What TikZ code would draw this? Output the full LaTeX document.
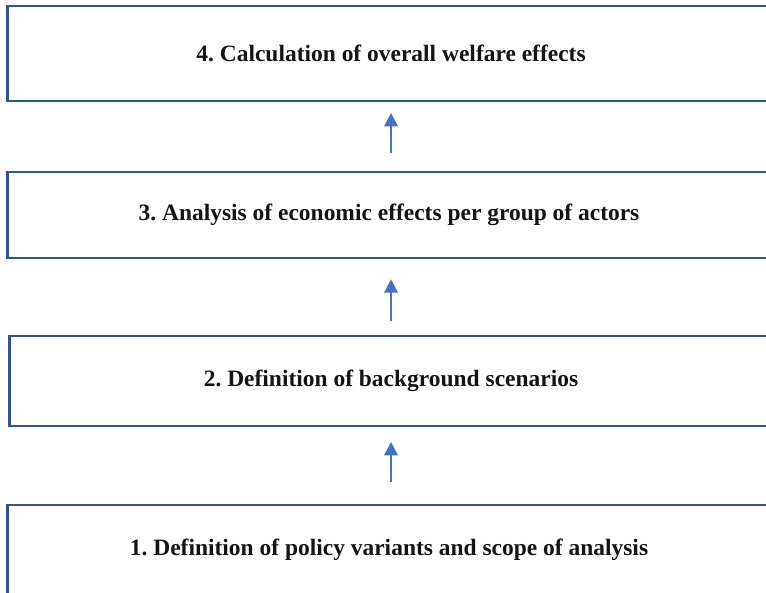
\documentclass[tikz,border=0pt]{standalone}
\usepackage{fontspec}
\setmainfont{Liberation Serif}
\usepackage{tikz}
\usetikzlibrary{arrows.meta}
\usepackage{xcolor}

\definecolor{boxblue}{HTML}{2F5597}
\definecolor{arrowblue}{HTML}{4472C4}

\tikzset{
  stagebox/.style={draw=boxblue, line width=1.9pt, fill=white, inner sep=0pt,
    minimum height=#1, minimum width=572pt,
    font=\fontsize{17.6}{20}\selectfont\bfseries\frenchspacing, text=black!92},
  flowarrow/.style={-{Triangle[length=10pt,width=10pt]}, draw=arrowblue,
    fill=arrowblue, line width=1.7pt}
}

\begin{document}
\begin{tikzpicture}[x=0.75pt, y=-0.75pt]
  %% Page frame
  \clip (0,0) rectangle (766,592);
  \fill[white] (0,0) rectangle (766,592);

  %% Stages, bottom to top
  \node[stagebox=67.5pt] (step1) at (389,550)
    {1. Definition of policy variants and scope of analysis};
  \node[stagebox=67.5pt] (step2) at (391,381)
    {2. Definition of background scenarios};
  \node[stagebox=64.5pt] (step3) at (389,215)
    {3. Analysis of economic effects per group of actors};
  \node[stagebox=71.25pt, minimum width=575pt] (step4) at (391,53.5)
    {4. Calculation of overall welfare effects};

  %% Arrows between stages
  \draw[flowarrow, shorten <=16pt, shorten >=11pt]
    (step1.north -| step2.south) -- (step2.south);
  \draw[flowarrow, shorten <=10.5pt, shorten >=15pt]
    (step2.north) -- (step3.south -| step2.north);
  \draw[flowarrow, shorten <=13.5pt, shorten >=8pt]
    (step3.north -| step4.south) -- (step4.south);

\end{tikzpicture}
\end{document}
